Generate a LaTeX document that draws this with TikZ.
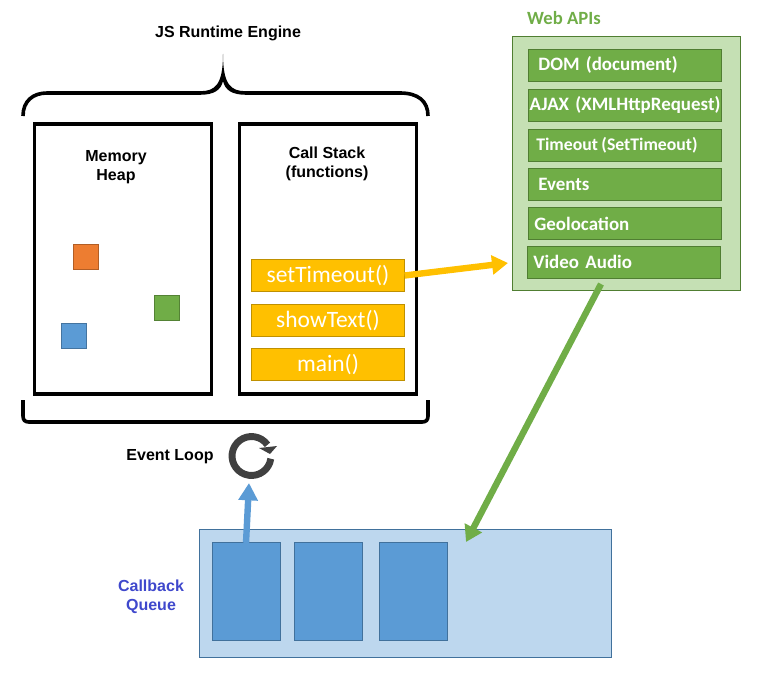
\documentclass[tikz,border=0pt]{standalone}
\usepackage{fontspec}
\setmainfont{Liberation Sans}
\newfontfamily\boxfont{Carlito}
\usepackage{xcolor}
\usetikzlibrary{arrows.meta}
\definecolor{stackyellow}{HTML}{FFC000}
\definecolor{stackedge}{HTML}{BF9000}
\definecolor{apigreen}{HTML}{70AD47}
\definecolor{apiedge}{HTML}{507E32}
\definecolor{apilight}{HTML}{C5E0B4}
\definecolor{queueblue}{HTML}{5B9BD5}
\definecolor{queueedge}{HTML}{41719C}
\definecolor{queuelight}{HTML}{BDD7EE}
\definecolor{heaporange}{HTML}{ED7D31}
\definecolor{looktitle}{HTML}{3F48CC}
\definecolor{loopgray}{HTML}{404040}
\tikzset{
    every node/.style={inner sep=0pt, outer sep=0pt},
    heading/.style={font=\fontsize{12}{14.3}\selectfont\bfseries, align=center},
    framebox/.style={draw=black, line width=2.3pt, fill=white, minimum width=133pt, minimum height=202.5pt},
    stackbox/.style={draw=stackedge, fill=stackyellow, line width=0.7pt, minimum width=115pt, minimum height=24.4pt,
        text=white, font=\boxfont\fontsize{17.6}{20}\selectfont},
    apibox/.style={draw=apiedge, fill=apigreen, line width=0.7pt, minimum width=145pt, minimum height=24pt,
        text width=145pt, align=left, text=white, font=\boxfont\fontsize{14.2}{16}\selectfont\bfseries},
    heapsquare/.style={draw=#1!75!black, fill=#1, line width=0.5pt, minimum size=19pt},
    queuebox/.style={draw=queueedge, fill=queueblue, line width=0.7pt, minimum width=51pt, minimum height=73pt},
}
\begin{document}
\begin{tikzpicture}[x=0.75pt, y=-0.75pt]
    \useasboundingbox (0,0) rectangle (770,674);
    % Runtime engine
    \node[heading] (engine) at (228,33) {JS Runtime Engine};
    \draw[line width=2.7pt] (23,116) .. controls (23,101) and (33,93) .. (47,93) -- (200,93);
    \draw[line width=2.7pt] (246,93) -- (400,93) .. controls (418,93) and (428,101) .. (428,116);
    \fill (200,91.2) .. controls (215,91.2) and (223,85) .. (223,54) .. controls (223,85) and (231,91.2) .. (246,91.2)
        -- (246,94.8) .. controls (232,94.8) and (225,90) .. (223,81) .. controls (221,90) and (214,94.8) .. (200,94.8) -- cycle;
    \node[framebox] (heap) at (123,259) {};
    \node[framebox] (stack) at (328,259) {};
    \node[heading] (heaptitle) at (116,167) {Memory\\Heap};
    \node[heading] (stacktitle) at (327,164) {Call Stack\\(functions)};
    % Bottom brace
    \draw[line width=2.7pt] (23,400) -- (23,416) .. controls (23,420) and (25,422) .. (29,422)
        -- (422,422) .. controls (426,422) and (428,420) .. (428,416) -- (428,400);
    % Heap objects
    \node[heapsquare=heaporange] (orangeobj) at (86,257) {};
    \node[heapsquare=apigreen] (greenobj) at (167,308) {};
    \node[heapsquare=queueblue] (blueobj) at (73.5,336) {};
    % Call stack frames
    \node[stackbox] (settimeout) at (328,275.5) {setTimeout()};
    \node[stackbox] (showtext) at (328,320.5) {showText()};
    \node[stackbox] (mainframe) at (328,364.5) {main()};
    % Web APIs
    \node[heading, text=apigreen] (webtitle) at (564,18) {\boxfont\fontsize{14}{16}\selectfont\bfseries Web APIs};
    \node[draw=apiedge, fill=apilight, line width=0.7pt, minimum width=171pt, minimum height=191pt] (webapis) at (626,163.5) {};
    \node[apibox] (dom) at (625,65) {\hspace*{7.5pt}DOM (document)};
    \node[apibox] (ajax) at (625,105) {\hspace*{1pt}AJAX (XMLHttpRequest)};
    \node[apibox, font=\boxfont\fontsize{13.3}{16}\selectfont\bfseries] (timeout) at (625,145) {\hspace*{6pt}Timeout\hspace{2.6pt}(SetTimeout)};
    \node[apibox] (events) at (625,184.5) {\hspace*{7.5pt}Events};
    \node[apibox] (geo) at (625,223.5) {\hspace*{4.5pt}Geolocation};
    \node[apibox] (video) at (624,262) {\hspace*{4.5pt}Video Audio};
    % Callback queue
    \node[draw=queueedge, fill=queuelight, line width=0.7pt, minimum width=309pt, minimum height=96pt] (queue) at (405,593) {};
    \node[queuebox] (cbone) at (246,591.5) {};
    \node[queuebox] (cbtwo) at (328,591.5) {};
    \node[queuebox] (cbthree) at (413,591.5) {};
    \node[heading, text=looktitle] (queuetitle) at (151,597) {Callback\\Queue};
    % Event loop
    \node[heading] (looptitle) at (170,456.5) {Event Loop};
    \coordinate (loopcentre) at (251.5,456);
    \draw[loopgray, line width=5.2pt] ([shift={(-8:14.6pt)}]loopcentre) arc[start angle=-8, end angle=-325, radius=14.6pt];
    \fill[loopgray] (259,448) -- (277,446) -- (270,454) -- cycle;
    % Arrows
    \coordinate (yellowtip) at (508,263);
    \coordinate (greenstart) at (601,284);
    \coordinate (greentip) at (466,542);
    \coordinate (bluetip) at (249,483);
    \draw[-{Triangle[length=12pt, width=14pt]}, stackyellow, line width=4.8pt] (settimeout.east) -- (yellowtip);
    \draw[-{Triangle[length=12pt, width=14pt]}, apigreen, line width=4.8pt] (greenstart) -- (greentip);
    \draw[-{Triangle[length=13pt, width=14pt]}, queueblue, line width=4.8pt] (cbone.north) -- (bluetip);
\end{tikzpicture}
\end{document}
